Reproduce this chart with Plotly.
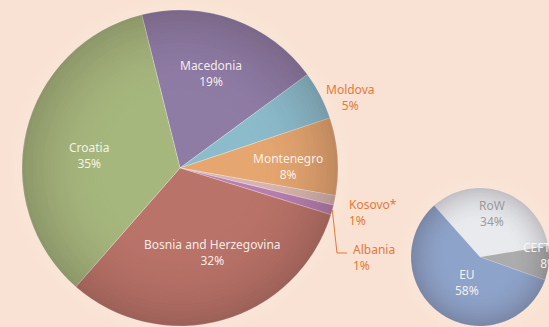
import math
import plotly.graph_objects as go

W, H = 549, 327
BG = "#F9E2D3"

# Share of exports by destination (left pie)
countries = ["Macedonia", "Moldova", "Montenegro", "Kosovo*", "Albania",
             "Bosnia and Herzegovina", "Croatia"]
shares = [19, 5, 8, 1, 1, 32, 35]
country_colors = ["#8F7CA5", "#8CBCCC", "#E5A670", "#D9B4AE", "#B67FAF",
                  "#BA7368", "#A6B77D"]

# Share by trading block (right pie)
blocks = ["RoW", "CEFTA", "EU"]
block_shares = [34, 8, 58]
block_colors = ["#E8EAEE", "#ACACAC", "#8EA3C9"]

# Pie geometry in pixels (centre x, centre y, radius) and start angle
big = (180, 168, 158, -14)
small = (480, 257, 69, -41.7)


def px_domain(cx, cy, r):
    return dict(x=[max(0, (cx - r) / W), min(1, (cx + r) / W)],
                y=[max(0, (H - cy - r) / H), min(1, (H - cy + r) / H)])


def circle_pts(cx, cy, r, n=160, reverse=False):
    pts = []
    for k in range(n):
        t = 2 * math.pi * k / n
        if reverse:
            t = -t
        pts.append(((cx + r * math.cos(t)) / W, (H - (cy + r * math.sin(t))) / H))
    return pts


def annulus(cx, cy, r_in, r_out, color, layer):
    outer = circle_pts(cx, cy, r_out)
    inner = circle_pts(cx, cy, r_in, reverse=True)
    p = "M " + " L ".join(f"{x:.5f} {y:.5f}" for x, y in outer) + " Z "
    p += "M " + " L ".join(f"{x:.5f} {y:.5f}" for x, y in inner) + " Z"
    return dict(type="path", xref="paper", yref="paper", path=p,
                fillcolor=color, line=dict(width=0), layer=layer)


fig = go.Figure()
fig.add_trace(go.Pie(
    labels=countries, values=shares, sort=False, direction="clockwise",
    rotation=big[3], marker=dict(colors=country_colors,
                                 line=dict(color="rgba(255,255,255,0.45)", width=0.6)),
    textinfo="none", hoverinfo="label+value", domain=px_domain(*big[:3]),
    showlegend=False))
fig.add_trace(go.Pie(
    labels=blocks, values=block_shares, sort=False, direction="clockwise",
    rotation=small[3], marker=dict(colors=block_colors,
                                   line=dict(color="rgba(255,255,255,0.3)", width=0.5)),
    textinfo="none", hoverinfo="label+value", domain=px_domain(*small[:3]),
    showlegend=False))

shapes = []
for cx, cy, r, _ in (big, small):
    # soft light halo behind the pie
    n = 10
    for i in range(n):
        r0 = r - 2 + i * 2.0
        a = 0.16 * (1 - i / n) ** 1.4
        shapes.append(annulus(cx, cy, r0, r0 + 2.0, f"rgba(255,250,240,{a:.3f})", "below"))
    # darker shading towards the rim
    n = 24
    inner = r * 0.45
    step = (r - inner) / n
    for i in range(n):
        r0 = inner + i * step
        a = 0.2 * ((i + 1) / n) ** 2.2
        shapes.append(annulus(cx, cy, r0, r0 + step, f"rgba(45,25,30,{a:.3f})", "above"))

# leader line to the Albania label
cx, cy, R, rot = big
start = rot + sum(shares[:4]) / sum(shares) * 360
mid = math.radians(start + shares[4] / sum(shares) * 180)
ex, ey = cx + R * math.sin(mid), cy - R * math.cos(mid)
shapes.append(dict(type="path", xref="paper", yref="paper",
                   path=f"M {ex / W:.4f} {(H - ey) / H:.4f} L {337 / W:.4f} {(H - 253) / H:.4f} "
                        f"L {347 / W:.4f} {(H - 253) / H:.4f}",
                   line=dict(color="#E27A3A", width=1), layer="above"))

FONT = "Noto Sans"
INNER = "rgba(255,248,245,0.92)"
ORANGE = "#E27A3A"

annotations = []


def label(x, y, text, color, align="center", xanchor="center"):
    annotations.append(dict(x=x / W, y=(H - y) / H, xref="paper", yref="paper",
                            text=text, showarrow=False, align=align, xanchor=xanchor,
                            yanchor="middle",
                            font=dict(family=FONT, size=12, color=color)))


inside_pos = {"Macedonia": (211, 73), "Croatia": (89, 155),
              "Montenegro": (288, 166), "Bosnia and Herzegovina": (212, 253)}
for name, val in zip(countries, shares):
    if name in inside_pos:
        x, y = inside_pos[name]
        label(x, y, f"{name}<br>{val}%", INNER)

d = dict(zip(countries, shares))
label(350, 97, f"Moldova<br>{d['Moldova']}%", ORANGE)
label(347, 212, f"Kosovo*<br>{d['Kosovo*']}%", ORANGE, align="left", xanchor="left")
label(351, 257, f"Albania<br>{d['Albania']}%", ORANGE, align="left", xanchor="left")

b = dict(zip(blocks, block_shares))
label(492, 213, f"RoW<br>{b['RoW']}%", "#9A9A9E")
label(467, 282, f"EU<br>{b['EU']}%", INNER)
label(521, 255, f"CEFTA<br>{b['CEFTA']}%", INNER, align="right", xanchor="left")

fig.update_layout(width=W, height=H, margin=dict(l=0, r=0, t=0, b=0),
                  paper_bgcolor=BG, plot_bgcolor=BG, shapes=shapes,
                  annotations=annotations)
fig.write_html("out.html")
